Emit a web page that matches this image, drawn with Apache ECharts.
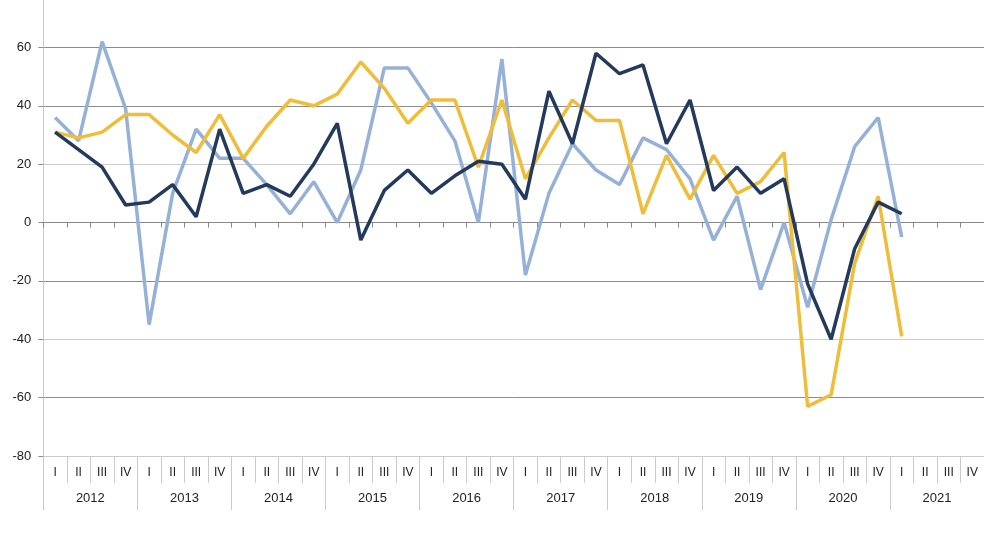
<!DOCTYPE html>
<html>
<head>
<meta charset="utf-8">
<script src="https://cdn.jsdelivr.net/npm/echarts@6/dist/echarts.min.js"></script>
<style>
html,body{margin:0;padding:0;background:#fff;}
#chart{width:984px;height:554px;}
</style>
</head>
<body>
<div id="chart"></div>
<script>
const quarterNames = ['I', 'II', 'III', 'IV'];
const years = ['2012', '2013', '2014', '2015', '2016', '2017', '2018', '2019', '2020', '2021'];
const quarters = [];
years.forEach(function () { quarterNames.forEach(function (q) { quarters.push(q); }); });

const darkSeries = [31, 25, 19, 6, 7, 13, 2, 32, 10, 13, 9, 20, 34, -6, 11, 18, 10, 16, 21, 20,
  8, 45, 27, 58, 51, 54, 27, 42, 11, 19, 10, 15, -21, -40, -9, 7, 3];
const lightSeries = [36, 28, 62, 39, -35, 10, 32, 22, 22, 13, 3, 14, 0, 18, 53, 53, 41, 28, 0, 56,
  -18, 10, 27, 18, 13, 29, 25, 15, -6, 9, -23, 0, -29, 1, 26, 36, -5];
const goldSeries = [31, 29, 31, 37, 37, 30, 24, 37, 22, 33, 42, 40, 44, 55, 46, 34, 42, 42, 19, 42,
  15, 29, 42, 35, 35, 3, 23, 8, 23, 10, 14, 24, -63, -59, -14, 9, -39];

const chart = echarts.init(document.getElementById('chart'), null, { renderer: 'canvas' });
const dark = '#8c8c8c', light = '#cbcbcb';
const font = 'Liberation Sans, Arial, sans-serif';
chart.setOption({
  animation: false,
  backgroundColor: '#ffffff',
  grid: { left: 43.3, top: 0, width: 945, height: 456, containLabel: false },
  xAxis: [
    {
      type: 'category', data: quarters, boundaryGap: true, position: 'bottom',
      axisLine: { show: true, onZero: true, lineStyle: { color: '#888888', width: 1 } },
      axisTick: { show: true, length: 5, interval: 0, lineStyle: { color: '#888888' } },
      axisLabel: { show: false }, splitLine: { show: false }
    },
    {
      type: 'category', data: quarters, boundaryGap: true, position: 'bottom',
      axisLine: { show: true, onZero: false, lineStyle: { color: light } },
      axisTick: { show: true, length: 27, interval: 0, lineStyle: { color: light } },
      axisLabel: { show: true, interval: 0, margin: 11, color: '#222', fontSize: 12, fontFamily: font },
      splitLine: { show: false }
    },
    {
      type: 'category', data: years, boundaryGap: true, position: 'bottom',
      axisLine: { show: false, onZero: false },
      axisTick: { show: true, length: 54, interval: 0, lineStyle: { color: light } },
      axisLabel: { show: true, interval: 0, margin: 36, color: '#222', fontSize: 13, fontFamily: font },
      splitLine: { show: false }
    }
  ],
  yAxis: {
    type: 'value', min: -80, max: 76.26, interval: 20,
    axisLine: { show: true, lineStyle: { color: light } },
    axisTick: { show: true, length: 5, lineStyle: { color: dark } },
    axisLabel: { margin: 12, color: '#222', fontSize: 13, fontFamily: font, showMaxLabel: false },
    splitLine: { show: true, showMaxLine: false, lineStyle: { width: 1, color: [light, dark, light, dark, dark, light, dark, dark, '#ffffff'] } }
  },
  series: [
    { name: 'light', type: 'line', data: lightSeries, xAxisIndex: 0, symbol: 'none', lineStyle: { color: '#95b1d8', width: 3.5 }, itemStyle: { color: '#95b1d8' } },
    { name: 'gold', type: 'line', data: goldSeries, xAxisIndex: 0, symbol: 'none', lineStyle: { color: '#efbd3a', width: 3.5 }, itemStyle: { color: '#efbd3a' } },
    { name: 'dark', type: 'line', data: darkSeries, xAxisIndex: 0, symbol: 'none', lineStyle: { color: '#243a5c', width: 3.5 }, itemStyle: { color: '#243a5c' } }
  ]
});
</script>
</body>
</html>
